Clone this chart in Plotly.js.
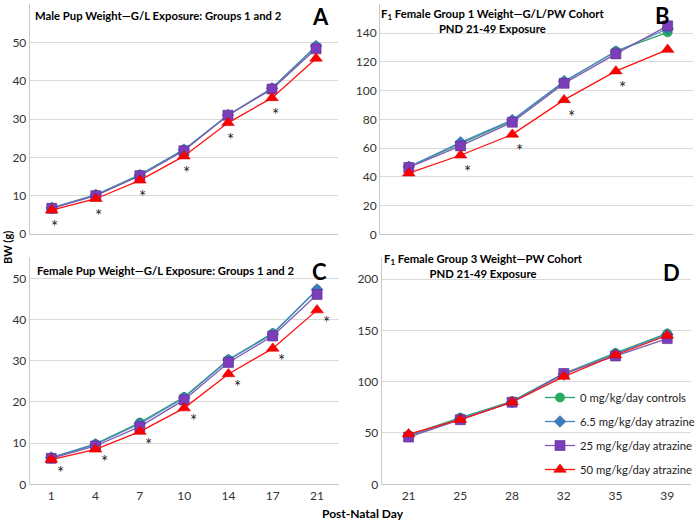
<!DOCTYPE html>
<html><head><meta charset="utf-8">
<script src="https://cdn.plot.ly/plotly-3.0.1.min.js"></script>
<style>html,body{margin:0;padding:0;background:#fff}</style>
</head><body><div id="chart" style="width:700px;height:522px"></div>
<script>
// ---- data ----
const pndPup = ['1','4','7','10','14','17','21'];
const pndCohort = ['21','25','28','32','35','39'];
const seriesNames = ['0 mg/kg/day controls','6.5 mg/kg/day atrazine','25 mg/kg/day atrazine','50 mg/kg/day atrazine'];

// Panel A: male pup weight (g)
const A_ctrl = [6.8, 10.2, 15.5, 22.0, 31.0, 38.0, 49.0];
const A_d65  = [6.8, 10.2, 15.3, 22.0, 31.0, 38.0, 49.0];
const A_d25  = [6.7, 10.0, 15.2, 21.7, 31.0, 37.8, 48.3];
const A_d50  = [6.2, 9.2, 14.0, 20.3, 29.0, 35.5, 45.8];
const A_sig  = ['1','4','7','10','14','17'];

// Panel B: F1 female group 1 weight (g)
const B_ctrl = [47.0, 63.0, 79.0, 106.0, 127.5, 140.5];
const B_d65  = [47.0, 64.0, 79.5, 106.5, 127.0, 143.0];
const B_d25  = [46.5, 61.5, 78.0, 105.0, 125.5, 145.0];
const B_d50  = [42.5, 55.0, 69.5, 93.5, 113.5, 128.5];
const B_sig  = ['25','28','32','35'];

// Panel C: female pup weight (g)
const C_ctrl = [6.5, 9.8, 15.0, 21.2, 30.3, 36.7, 47.2];
const C_d65  = [6.5, 9.7, 14.7, 21.0, 30.2, 36.5, 47.3];
const C_d25  = [6.3, 9.3, 14.0, 20.5, 29.6, 36.0, 46.1];
const C_d50  = [6.0, 8.5, 12.8, 18.5, 26.8, 33.0, 42.3];
const C_sig  = ['1','4','7','10','14','17','21'];

// Panel D: F1 female group 3 weight (g)
const D_ctrl = [48.0, 65.0, 81.0, 108.0, 128.0, 147.0];
const D_d65  = [47.0, 64.0, 80.0, 107.0, 127.0, 146.0];
const D_d25  = [46.0, 63.0, 80.0, 108.0, 125.0, 142.0];
const D_d50  = [49.0, 63.0, 80.0, 105.0, 126.0, 145.0];

// ---- styles ----
const W = 700, H = 522;
const fx = p => p / W;
const fy = p => 1 - p / H;
const FONT = 'Lato, "Open Sans", sans-serif';
const lineColors = ['#2FA56F', '#4A86C5', '#7F5DAE', '#FF1010'];
const markColors = ['#20B25C', '#3C7DC2', '#7B3DB9', '#FF0000'];
const symbols = ['circle', 'diamond', 'square', 'triangle-up'];
const sizes = [9, 9, 10, 11];
const outline = ['#178a47', '#2d5f96', '#5a2c8a', '#d00000'];

const traces = [];
function addPanel(xcats, sets, xa, ya, legend) {
  sets.forEach((vals, i) => {
    traces.push({
      x: xcats, y: vals, xaxis: xa, yaxis: ya,
      type: 'scatter', mode: 'lines+markers',
      name: seriesNames[i], legendgroup: 'g' + i, showlegend: legend,
      line: {color: lineColors[i], width: 1.3},
      marker: {symbol: symbols[i], size: sizes[i], color: markColors[i], line: {color: outline[i], width: 0.6}},
      hoverinfo: 'x+y+name'
    });
  });
}
addPanel(pndPup, [A_ctrl, A_d65, A_d25, A_d50], 'x', 'y', false);
addPanel(pndCohort, [B_ctrl, B_d65, B_d25, B_d50], 'x2', 'y2', false);
addPanel(pndPup, [C_ctrl, C_d65, C_d25, C_d50], 'x3', 'y3', false);
addPanel(pndCohort, [D_ctrl, D_d65, D_d25, D_d50], 'x4', 'y4', true);

const tickFont = {family: FONT, size: 12, color: '#333'};
function xAxis(domain, range, showLabels, anchor) {
  return {domain: domain, range: range, type: 'category', anchor: anchor,
    showgrid: false, zeroline: false, showline: true, linecolor: '#c8c8c8', linewidth: 1,
    ticks: '', showticklabels: showLabels, tickfont: tickFont, fixedrange: true};
}
function yAxis(domain, range, dtick, anchor) {
  return {domain: domain, range: range, dtick: dtick, anchor: anchor,
    showgrid: true, gridcolor: '#d9d9d9', gridwidth: 1, zeroline: false,
    showline: true, linecolor: '#c8c8c8', linewidth: 1,
    ticks: '', ticklen: 0, tickfont: tickFont, fixedrange: true};
}

const annotations = [];
// significance asterisks placed at the 50 mg/kg/day point (category index on a category axis)
function star(xa, ya, idx, y, xs, ys) {
  annotations.push({xref: xa, yref: ya, x: idx, y: y, text: '*', showarrow: false,
    xshift: xs, yshift: ys, font: {family: FONT, size: 17, color: '#222'}});
}
A_sig.forEach(c => { const i = pndPup.indexOf(c); star('x', 'y', i, A_d50[i], 3, -16.5); });
B_sig.forEach(c => { const i = pndCohort.indexOf(c); star('x2', 'y2', i, B_d50[i], 7, -16.5); });
C_sig.forEach(c => { const i = pndPup.indexOf(c); star('x3', 'y3', i, C_d50[i], 9, -12.5); });

function label(text, x, y, size, anchor, opts) {
  annotations.push(Object.assign({xref: 'paper', yref: 'paper', x: fx(x), y: fy(y), text: text,
    showarrow: false, xanchor: anchor, yanchor: 'middle',
    font: {family: FONT, size: size, color: '#000'}}, opts || {}));
}
label('<b>Male Pup Weight\u2014G/L Exposure: Groups 1 and 2</b>', 33, 15, 11.3, 'left');
label('<b>A</b>', 323, 16, 22, 'center');
label('<b>F<sub>1</sub> Female Group 1 Weight\u2014G/L/PW Cohort<br>PND 21-49 Exposure</b>', 497, 21, 11.3, 'center');
label('<b>B</b>', 668, 15, 22, 'center');
label('<b>Female Pup Weight\u2014G/L Exposure: Groups 1 and 2</b>', 35, 270, 11.3, 'left');
label('<b>C</b>', 322, 271, 22, 'center');
label('<b>F<sub>1</sub> Female Group 3 Weight\u2014PW Cohort<br>PND 21-49 Exposure</b>', 488, 266, 11.3, 'center');
label('<b>D</b>', 677, 272, 22, 'center');
label('<b>BW (g)</b>', 7, 247, 11, 'center', {textangle: -90});
label('<b>Post-Natal Day</b>', 366, 513, 12, 'center');

const layout = {
  width: W, height: H, margin: {l: 0, r: 0, t: 0, b: 0},
  paper_bgcolor: '#fff', plot_bgcolor: '#fff',
  font: {family: FONT, color: '#333'},
  xaxis:  xAxis([fx(30), fx(341)], [-0.5, 6.5], false, 'y'),
  yaxis:  yAxis([fy(234), fy(4)], [0, 60], 10, 'x'),
  xaxis2: xAxis([fx(383.3), fx(699)], [-0.556, 5.49], false, 'y2'),
  yaxis2: yAxis([fy(234.3), fy(4.3)], [0, 160], 20, 'x2'),
  xaxis3: xAxis([fx(30), fx(341.7)], [-0.485, 6.49], true, 'y3'),
  yaxis3: yAxis([fy(484.3), fy(257)], [0, 55.2], 10, 'x3'),
  xaxis4: xAxis([fx(385), fx(697)], [-0.52, 5.46], true, 'y4'),
  yaxis4: yAxis([fy(484.3), fy(257)], [0, 221.5], 50, 'x4'),
  showlegend: true,
  legend: {x: fx(545), y: fy(383), xanchor: 'left', yanchor: 'top',
    bgcolor: 'rgba(0,0,0,0)', borderwidth: 0, traceorder: 'grouped', tracegroupgap: 5,
    itemwidth: 30, font: {family: FONT, size: 11.3, color: '#222'}},
  annotations: annotations
};

Plotly.newPlot('chart', traces, layout, {displayModeBar: false, staticPlot: true});
</script>
</body></html>
